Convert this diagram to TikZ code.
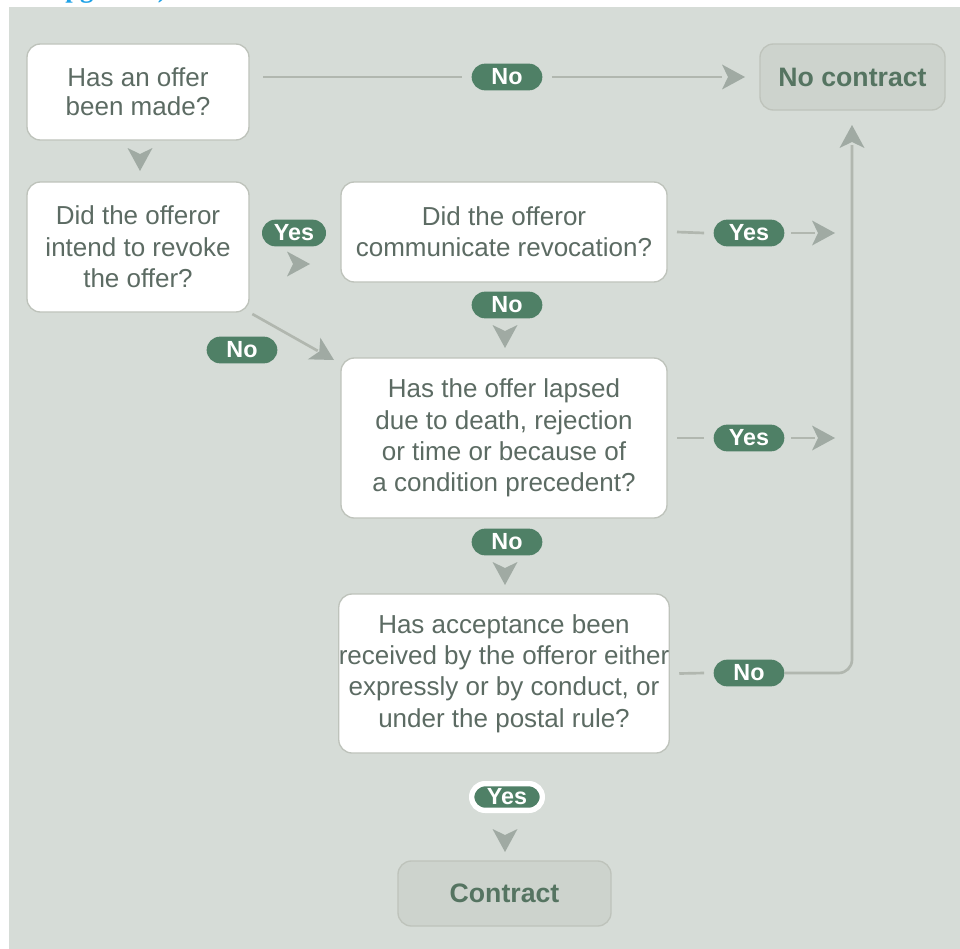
\documentclass[tikz,border=0pt]{standalone}
\usepackage{fontspec}
\setmainfont{Liberation Sans}
\newfontfamily\serifbold{Liberation Serif}
\usetikzlibrary{arrows.meta,calc}
\definecolor{bgc}{HTML}{D6DCD7}
\definecolor{boxline}{HTML}{BEC3BB}
\definecolor{txtc}{HTML}{5C6B63}
\definecolor{pillc}{HTML}{4F8066}
\definecolor{connc}{HTML}{B1B7AF}
\definecolor{tipc}{HTML}{A0AAA3}
\definecolor{endfill}{HTML}{CDD3CD}
\definecolor{endtxt}{HTML}{557461}
\definecolor{titleblue}{HTML}{1DA1E6}
\begin{document}
\begin{tikzpicture}[x=0.75pt,y=-0.75pt,
  qbox/.style={draw=boxline, fill=white, line width=1pt, rounded corners=10pt,
    align=center, font=\fontsize{19.5}{23.5}\selectfont, text=txtc, inner sep=0pt},
  endbox/.style={draw=boxline, fill=endfill, line width=1pt, rounded corners=10pt,
    font=\bfseries\fontsize{20}{24}\selectfont, text=endtxt, inner sep=0pt},
  pill/.style={fill=pillc, rounded corners=10pt, minimum width=53pt, minimum height=20pt,
    inner sep=0pt, text=white, font=\bfseries\fontsize{17.5}{18}\selectfont},
  conn/.style={draw=connc, line width=2pt},
  ahead/.pic={\fill[tipc] (0,0) -- (-23,-12.5) -- (-17,0) -- (-23,12.5) -- cycle;}
]
\useasboundingbox (0,0) rectangle (960,949);
\fill[white] (0,0) rectangle (960,949);
\node[anchor=base west, inner sep=0pt, text=titleblue, font=\serifbold\bfseries\fontsize{20}{24}\selectfont] (ttl) at (65,-2) {pg 3--55)};
\fill[bgc] (9,7) rectangle (960,949);

% question boxes
\node[qbox, minimum width=166.5pt, minimum height=72pt, font=\fontsize{19.5}{21.5}\selectfont] (a) at (138,92)
  {Has an offer\\been made?};
\node[qbox, minimum width=166.5pt, minimum height=97.5pt] (b) at (138,247)
  {Did the offeror\\intend to revoke\\the offer?};
\node[qbox, minimum width=244.5pt, minimum height=75pt] (c) at (504,232)
  {Did the offeror\\communicate revocation?};
\node[qbox, minimum width=244.5pt, minimum height=120pt] (d) at (504,438)
  {Has the offer lapsed\\due to death, rejection\\or time or because of\\a condition precedent?};
\node[qbox, minimum width=244.5pt, minimum height=119.25pt] (e) at (504,673.5)
  {Has acceptance been\\received by the offeror either\\expressly or by conduct, or\\under the postal rule?};
\node[endbox, minimum width=138.75pt, minimum height=49.5pt] (nc) at (852.5,77) {No contract};
\node[endbox, minimum width=159.75pt, minimum height=48.75pt] (k) at (504.5,893.5) {Contract};

% pills
\node[pill] (p1) at (507,77) {No};
\node[pill, minimum width=48pt] (p2) at (294,233) {Yes};
\node[pill] (p3) at (242,350) {No};
\node[pill] (p4) at (507,305) {No};
\node[pill] (p5) at (749,233) {Yes};
\node[pill] (p6) at (749,438) {Yes};
\node[pill] (p7) at (507,542) {No};
\node[pill] (p8) at (749,673) {No};
\node[pill, draw=white, line width=4pt] (p9) at (507,797) {Yes};

% free ends of connectors
\coordinate (t1) at (745,77);
\coordinate (t2) at (835,233);
\coordinate (t3) at (835,438);
\coordinate (t4) at (852,125);
\coordinate (t5) at (334,360);

% connectors
\draw[conn] ([xshift=10pt]a.east |- p1.west) -- ([xshift=-7pt]p1.west);
\draw[conn] ([xshift=7pt]p1.east) -- ([xshift=-17pt]t1);
\draw[conn] ([xshift=7pt]c.east) -- ([xshift=-7pt]p5.west);
\draw[conn] ([xshift=5pt]p5.east) -- ([xshift=-15pt]t2);
\draw[conn] ([xshift=7pt]d.east) -- ([xshift=-7pt]p6.west);
\draw[conn] ([xshift=5pt]p6.east) -- ([xshift=-15pt]t3);
\draw[conn] ([xshift=7pt]e.east) -- ([xshift=-7pt]p8.west);
\draw[conn, rounded corners=10pt] (p8.east) -- (p8.east -| t4) -- ([yshift=-15pt]t4);
\draw[conn] ([xshift=2pt,yshift=-1pt]b.south east) -- ($(t5)!14pt!(b.south east)$);

% arrowheads
\pic at (t1) {ahead};
\pic at (t2) {ahead};
\pic at (t3) {ahead};
\pic[rotate=90] at (t4) {ahead};
\pic[rotate=-30] at (t5) {ahead};
\pic at (310,264) {ahead};
\pic[rotate=-90] at (140,171) {ahead};
\pic[rotate=-90] at (505,348) {ahead};
\pic[rotate=-90] at (505,585) {ahead};
\pic[rotate=-90] at (505,852) {ahead};
\end{tikzpicture}
\end{document}
